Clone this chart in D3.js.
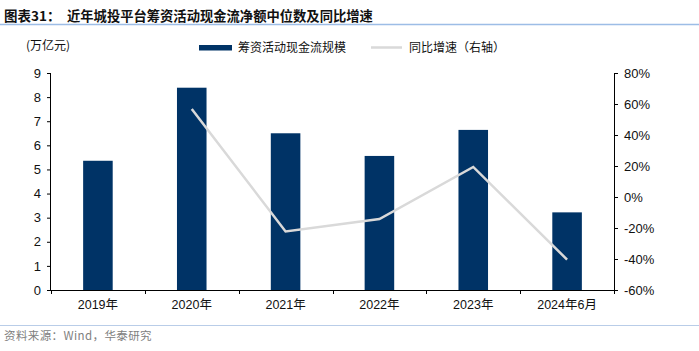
<!DOCTYPE html>
<html>
<head>
<meta charset="utf-8">
<script src="https://cdn.jsdelivr.net/npm/d3@7"></script>
<style>
  body { margin: 0; background: #fff; }
  svg text { font-family: "Liberation Sans", Arial, "Noto Sans CJK SC", sans-serif; }
  .cjk { font-family: "Noto Sans CJK SC", sans-serif; }
</style>
</head>
<body>
<svg id="chart"></svg>
<script>
// data
const categories = ["2019年", "2020年", "2021年", "2022年", "2023年", "2024年6月"];
const financingCash = [5.36, 8.39, 6.50, 5.56, 6.64, 3.22];       // 万亿元
const yoyGrowth = [null, 56.8, -22.2, -14.2, 19.4, -40.4];         // %
const leftTicks = [0, 1, 2, 3, 4, 5, 6, 7, 8, 9];
const rightTicks = [-60, -40, -20, 0, 20, 40, 60, 80];

const width = 699, height = 351;
const margin = { top: 73, bottom: 61, left: 51, right: 85 };
const innerW = width - margin.left - margin.right;
const innerH = height - margin.top - margin.bottom;

const svg = d3.select("#chart").attr("width", width).attr("height", height);

// title + rules
const title = svg.append("text")
  .attr("x", 4).attr("y", 21)
  .attr("class", "cjk")
  .style("font-weight", "bold").attr("fill", "#111");
title.append("tspan").style("font-size", "13.5px").text("图表31：");
title.append("tspan").attr("x", 67).style("font-size", "13.3px")
  .text("近年城投平台筹资活动现金流净额中位数及同比增速");
svg.append("line").attr("x1", 0).attr("x2", width).attr("y1", 24.5).attr("y2", 24.5)
  .attr("stroke", "#9dbde6").attr("stroke-width", 1.5);
svg.append("line").attr("x1", 0).attr("x2", width).attr("y1", 325.5).attr("y2", 325.5)
  .attr("stroke", "#b9cde8").attr("stroke-width", 1.2);
svg.append("text")
  .attr("x", 4).attr("y", 340)
  .attr("class", "cjk")
  .style("font-size", "11.5px").style("letter-spacing", "0.4px").attr("fill", "#808080")
  .text("资料来源：Wind，华泰研究");

const chart = svg.append("g").attr("transform", `translate(${margin.left},${margin.top})`);

const x = d3.scaleBand().domain(categories).range([0, innerW]).paddingInner(0.685).paddingOuter(0.3425);
const yL = d3.scaleLinear().domain([0, 9]).range([innerH, 0]);
const yR = d3.scaleLinear().domain([-60, 80]).range([innerH, 0]);

// bars
chart.selectAll(".bar")
  .data(categories)
  .join("rect")
  .attr("class", "bar")
  .attr("x", d => x(d))
  .attr("width", x.bandwidth())
  .attr("y", (d, i) => yL(financingCash[i]))
  .attr("height", (d, i) => innerH - yL(financingCash[i]))
  .attr("fill", "#003366");

// growth line (right axis)
const linePts = categories.map((c, i) => ({ c, v: yoyGrowth[i] })).filter(d => d.v !== null);
chart.append("path")
  .datum(linePts)
  .attr("fill", "none")
  .attr("stroke", "#d9d9d9")
  .attr("stroke-width", 2.5)
  .attr("d", d3.line()
    .x(d => x(d.c) + x.bandwidth() / 2)
    .y(d => yR(d.v)));

// left axis
const leftAxis = chart.append("g")
  .call(d3.axisLeft(yL).tickValues(leftTicks).tickSize(4).tickPadding(6).tickFormat(d3.format("d")));
leftAxis.select(".domain").attr("d", `M-0.5,${innerH}V0`);

// right axis
const rightAxis = chart.append("g")
  .attr("transform", `translate(${innerW},0)`)
  .call(d3.axisRight(yR).tickValues(rightTicks).tickSize(4).tickPadding(6).tickFormat(d => d + "%"));
rightAxis.select(".domain").attr("d", `M0.5,${innerH}V0`);

// x axis with ticks at band boundaries
const xAxis = chart.append("g").attr("transform", `translate(0,${innerH})`)
  .call(d3.axisBottom(x).tickSize(0).tickPadding(10));
xAxis.select(".domain").attr("d", `M0,0.5H${innerW}`);
xAxis.selectAll(".bnd")
  .data(d3.range(categories.length + 1))
  .join("line")
  .attr("x1", i => Math.round(i * (innerW / categories.length)) + 0.5)
  .attr("x2", i => Math.round(i * (innerW / categories.length)) + 0.5)
  .attr("y1", 0).attr("y2", 4)
  .attr("stroke", "#000");

chart.selectAll(".domain, .tick line").attr("stroke", "#000");
chart.selectAll(".tick text").style("font-size", "13px").attr("fill", "#111");
xAxis.selectAll(".tick text").style("font-size", "12.5px");

// unit label
svg.append("text")
  .attr("x", 26).attr("y", 50)
  .attr("class", "cjk")
  .style("font-size", "12px").attr("fill", "#111")
  .text("(万亿元)");

// legend
const legend = svg.append("g");
legend.append("rect").attr("x", 199).attr("y", 45).attr("width", 33).attr("height", 5.5).attr("fill", "#003366");
legend.append("text").attr("x", 238).attr("y", 52).attr("class", "cjk")
  .style("font-size", "12px").attr("fill", "#111").text("筹资活动现金流规模");
legend.append("line").attr("x1", 371).attr("x2", 402).attr("y1", 47.5).attr("y2", 47.5)
  .attr("stroke", "#d9d9d9").attr("stroke-width", 2.5);
legend.append("text").attr("x", 409).attr("y", 52).attr("class", "cjk")
  .style("font-size", "12px").attr("fill", "#111").text("同比增速（右轴）");
</script>
</body>
</html>
